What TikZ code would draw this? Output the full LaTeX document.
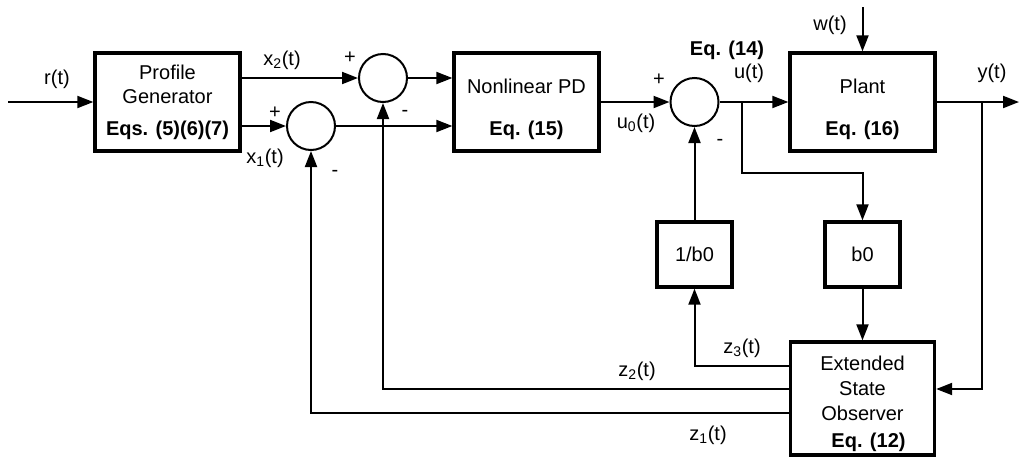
\documentclass[tikz,border=0pt]{standalone}
\usepackage{fontspec}
\setmainfont{Liberation Sans}
\usetikzlibrary{arrows.meta}

\tikzset{every picture/.style={line width=0.75pt}}
\tikzset{
block/.style={draw,line width=2.5pt,align=center,inner sep=0pt},
sumnode/.style={draw,circle,line width=1.5pt,minimum size=36pt,inner sep=0pt},
sig/.style={line width=1.5pt,-{Triangle[length=12pt,width=9pt]}},
lbl/.style={inner sep=0pt}
}

\begin{document}
\begin{tikzpicture}[x=0.75pt,y=0.75pt,yscale=-1,xscale=1,every node/.style={font=\fontsize{15}{18}\selectfont}]
\useasboundingbox (0,0) rectangle (1020,461);
% blocks
\node [block,minimum width=108.75pt,minimum height=73.5pt] (gen) at (167.5,102) {Profile\\Generator\\[6pt]\textbf{Eqs. (5)(6)(7)}};
\node [block,minimum width=108.75pt,minimum height=73.5pt] (pd) at (526.5,102) {\rule{0pt}{21.5pt}Nonlinear PD\\[13.5pt]\textbf{Eq. (15)}};
\node [block,minimum width=108.75pt,minimum height=73.5pt] (plant) at (862.5,102) {\rule{0pt}{21.5pt}Plant\\[13.5pt]\textbf{Eq. (16)}};
\node [block,minimum width=56.25pt,minimum height=48.75pt] (inv) at (694.5,254.5) {1/b0};
\node [block,minimum width=56.25pt,minimum height=48.75pt] (bz) at (862.5,254.5) {b0};
\node [block,minimum width=108pt,minimum height=84.75pt,font=\fontsize{15}{18.75}\selectfont] (eso) at (862.5,398.5) {\rule{0pt}{18.5pt}Extended\\State\\Observer\\[1.5pt]\hspace*{9pt}\textbf{Eq. (12)}};
% summing points
\node [sumnode] (s1) at (311,126) {};
\node [sumnode] (s2) at (383,78) {};
\node [sumnode] (s3) at (694.5,102) {};
% free ends
\coordinate (in) at (8,102);
\coordinate (win) at (862.5,7);
\coordinate (out) at (1019,102);
\coordinate (ubr) at (742,102);
\coordinate (ybr) at (982,102);
% forward path
\draw [sig] (in) -- (gen);
\draw [sig] (gen.east |- s2) -- (s2);
\draw [sig] (gen.east |- s1) -- (s1);
\draw [sig] (s2) -- (pd.west |- s2);
\draw [sig] (s1) -- (pd.west |- s1);
\draw [sig] (pd) -- (s3);
\draw [sig] (s3) -- (plant);
\draw [sig] (win) -- (plant);
\draw [sig] (plant) -- (out);
% observer loop
\draw [sig] (ubr) -- ++(0,71) -| (bz);
\draw [sig] (bz) -- (eso);
\draw [sig] (ybr) |- ([yshift=-7.125pt]eso.east);
\draw [sig] ([yshift=-24.375pt]eso.west) -| (inv);
\draw [sig] (inv) -- (s3);
\draw [sig] ([yshift=-7.125pt]eso.west) -| (s2);
\draw [sig] ([yshift=10.875pt]eso.west) -| (s1);
% labels
\node [lbl] (rl) at (57,79) {r(t)};
\node [lbl] (x2l) at (282,60) {x\textsubscript{2}(t)};
\node [lbl] (x1l) at (265,158) {x\textsubscript{1}(t)};
\node [lbl] (p2) at (350,58) {+};
\node [lbl] (m2) at (405,113) {-};
\node [lbl] (p1) at (275,113) {+};
\node [lbl] (m1) at (335,173) {-};
\node [lbl] (u0l) at (636,123) {u\textsubscript{0}(t)};
\node [lbl] (p3) at (659,80) {+};
\node [lbl] (m3) at (720,142) {-};
\node [lbl] (eq14) at (727,50) {\textbf{Eq. (14)}};
\node [lbl] (ul) at (749,73) {u(t)};
\node [lbl] (wl) at (830,25) {w(t)};
\node [lbl] (yl) at (992,73) {y(t)};
\node [lbl] (z3l) at (742,348) {z\textsubscript{3}(t)};
\node [lbl] (z2l) at (637,371) {z\textsubscript{2}(t)};
\node [lbl] (z1l) at (708,435) {z\textsubscript{1}(t)};
\end{tikzpicture}
\end{document}
